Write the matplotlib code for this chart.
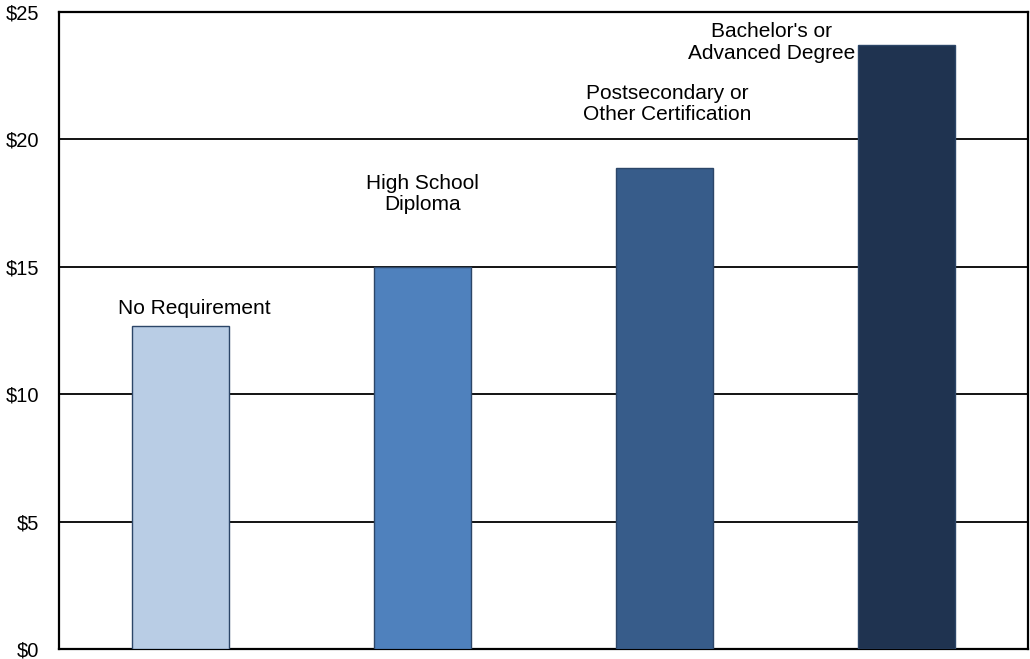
import matplotlib
matplotlib.use('Agg')
import matplotlib.pyplot as plt
from matplotlib.ticker import FuncFormatter

plt.rcParams['font.family'] = 'Liberation Sans'
plt.rcParams['font.size'] = 15

# data
categories = ["No Requirement", "High School\nDiploma",
              "Postsecondary or\nOther Certification", "Bachelor's or\nAdvanced Degree"]
wages = [12.66, 15.0, 18.87, 23.7]
colors = ['#b9cde5', '#4f81bd', '#375c8a', '#1f3350']
# label anchor positions (x, y) in data units
label_x = [0.06, 1.0, 2.01, 2.44]
label_y = [13.35, 17.85, 21.4, 23.8]

fig = plt.figure(figsize=(10.3, 6.59), dpi=100)
ax = fig.add_axes([59 / 1030, 10 / 659, 969 / 1030, 637 / 659])

x = range(len(categories))
ax.bar(x, wages, width=0.4, color=colors, edgecolor='#2c4668', linewidth=1.0, zorder=3)

for i, lab in enumerate(categories):
    ax.text(label_x[i], label_y[i], lab, ha='center', va='center',
            fontsize=15, zorder=2, linespacing=1.15)

ax.set_xlim(-0.5, 3.5)
ax.set_ylim(0, 25)
ax.set_yticks([0, 5, 10, 15, 20, 25])
ax.yaxis.set_major_formatter(FuncFormatter(lambda v, _: f'${int(v)}'))
ax.set_xticks([])
ax.tick_params(axis='y', length=0, pad=14, labelsize=14.5)
ax.grid(axis='y', color='black', linewidth=1.3, zorder=1)
ax.set_axisbelow(True)
for s in ax.spines.values():
    s.set_linewidth(1.6)
    s.set_color('black')

fig.savefig('out.png', dpi=100)
